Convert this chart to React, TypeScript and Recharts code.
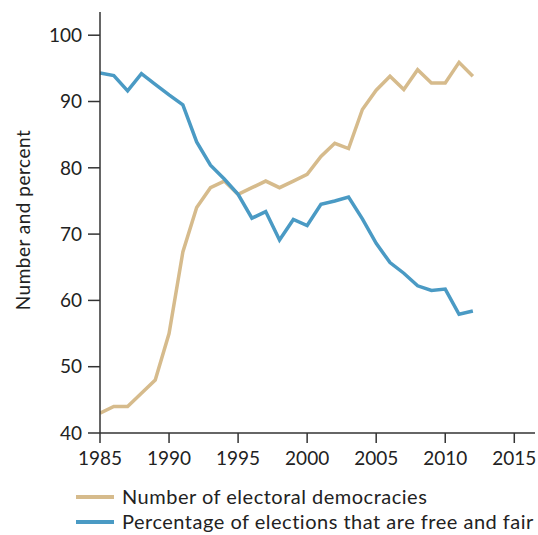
import { LineChart, Line, XAxis, YAxis } from 'recharts'

const years = [
  1985, 1986, 1987, 1988, 1989, 1990, 1991, 1992, 1993, 1994, 1995, 1996, 1997, 1998,
  1999, 2000, 2001, 2002, 2003, 2004, 2005, 2006, 2007, 2008, 2009, 2010, 2011, 2012,
]
const democracies = [
  43, 44, 44, 46, 48, 55, 67.3, 74, 77, 78, 76, 77, 78, 77,
  78, 79, 81.7, 83.7, 82.9, 88.8, 91.7, 93.8, 91.8, 94.8, 92.8, 92.8, 95.9, 93.8,
]
const freeFair = [
  94.3, 93.9, 91.6, 94.2, 92.6, 91.0, 89.5, 83.9, 80.4, 78.3, 76.0, 72.4, 73.4, 69.1,
  72.2, 71.3, 74.5, 75.0, 75.6, 72.3, 68.6, 65.7, 64.1, 62.2, 61.5, 61.7, 57.9, 58.4,
]
const xTicks = [1985, 1990, 1995, 2000, 2005, 2010, 2015]
const yTicks = [40, 50, 60, 70, 80, 90, 100]

const TAN = '#D6BB8C'
const BLUE = '#4A9AC4'
const AXIS = '#333333'
const FONT = 'Lato, "Noto Sans", sans-serif'

const data = years.map((year, i) => ({
  year,
  democracies: democracies[i],
  freeFair: freeFair[i],
}))

const legendItems = [
  { label: 'Number of electoral democracies', color: TAN },
  { label: 'Percentage of elections that are free and fair', color: BLUE },
]

const LegendBox = () => (
  <div
    style={{
      position: 'absolute',
      left: 76,
      top: 484,
      fontFamily: FONT,
      fontSize: 20,
      letterSpacing: 0.5,
      color: '#222',
      lineHeight: '25px',
      whiteSpace: 'nowrap',
    }}
  >
    {legendItems.map((item) => (
      <div key={item.label} style={{ display: 'flex', alignItems: 'center' }}>
        <span
          style={{ width: 38, height: 4, background: item.color, marginRight: 8, display: 'inline-block' }}
        />
        <span>{item.label}</span>
      </div>
    ))}
  </div>
)

const YLabel = () => (
  <text
    x={22}
    y={220}
    transform="rotate(-90 22 220)"
    textAnchor="middle"
    dominantBaseline="central"
    fill="#222"
    fontSize={19}
    letterSpacing={0.5}
    fontFamily={FONT}
  >
    Number and percent
  </text>
)

export default function App() {
  return (
    <div style={{ position: 'absolute', left: 0, top: 0, width: 538, height: 535, background: '#fff' }}>
      <LineChart width={538} height={535} data={data} margin={{ top: 12, right: 3, bottom: 0, left: 40 }}>
        <XAxis
          dataKey="year"
          type="number"
          domain={[1985, 2016.5]}
          ticks={xTicks}
          allowDataOverflow
          height={102}
          stroke={AXIS}
          strokeWidth={1.5}
          tickSize={10}
          tickMargin={9}
          tick={{ fill: '#222', fontSize: 19, fontFamily: FONT }}
        />
        <YAxis
          type="number"
          domain={[40, 103.5]}
          ticks={yTicks}
          allowDataOverflow
          width={60}
          stroke={AXIS}
          strokeWidth={1.5}
          tickSize={12}
          tickMargin={6}
          tick={{ fill: '#222', fontSize: 19, fontFamily: FONT }}
          label={<YLabel />}
        />
        <Line
          dataKey="democracies"
          stroke={TAN}
          strokeWidth={3.5}
          dot={false}
          isAnimationActive={false}
          strokeLinejoin="miter"
        />
        <Line
          dataKey="freeFair"
          stroke={BLUE}
          strokeWidth={3.5}
          dot={false}
          isAnimationActive={false}
          strokeLinejoin="miter"
        />
      </LineChart>
      <LegendBox />
    </div>
  )
}
